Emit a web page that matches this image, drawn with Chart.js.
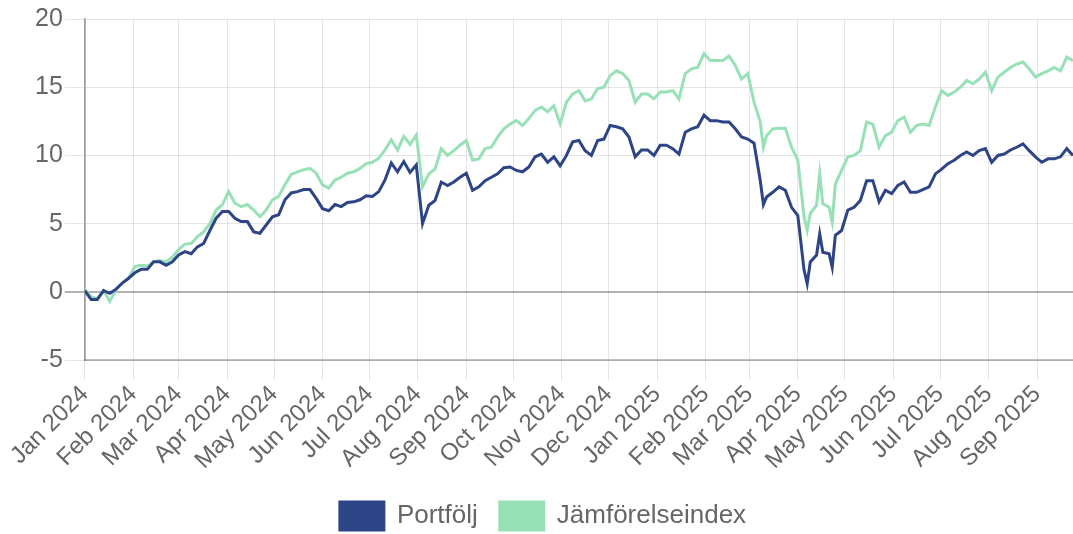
<!DOCTYPE html>
<html>
<head>
<meta charset="utf-8">
<script src="https://cdn.jsdelivr.net/npm/chart.js@4"></script>
<style>
  body { margin: 0; background: #fff; }
  #wrap { width: 1073px; height: 534px; }
</style>
</head>
<body>
<div id="wrap"><canvas id="perfChart"></canvas></div>
<script>
// datum for varje punkt
const dates = [
  '2024-01-01','2024-01-05','2024-01-09','2024-01-13','2024-01-17','2024-01-21','2024-01-25','2024-01-29',
  '2024-02-02','2024-02-06','2024-02-10','2024-02-14','2024-02-18','2024-02-22','2024-02-26',
  '2024-03-01','2024-03-05','2024-03-09','2024-03-13','2024-03-17','2024-03-21','2024-03-25','2024-03-29',
  '2024-04-02','2024-04-06','2024-04-10','2024-04-14','2024-04-18','2024-04-22','2024-04-26','2024-04-30',
  '2024-05-04','2024-05-08','2024-05-12','2024-05-16','2024-05-20','2024-05-24','2024-05-28',
  '2024-06-01','2024-06-05','2024-06-09','2024-06-13','2024-06-17','2024-06-21','2024-06-25','2024-06-29',
  '2024-07-03','2024-07-07','2024-07-11','2024-07-15','2024-07-19','2024-07-23','2024-07-27','2024-07-31',
  '2024-08-04','2024-08-08','2024-08-12','2024-08-16','2024-08-20','2024-08-24','2024-08-28',
  '2024-09-01','2024-09-05','2024-09-09','2024-09-13','2024-09-17','2024-09-21','2024-09-25','2024-09-29',
  '2024-10-03','2024-10-07','2024-10-11','2024-10-15','2024-10-19','2024-10-23','2024-10-27','2024-10-31',
  '2024-11-04','2024-11-08','2024-11-12','2024-11-16','2024-11-20','2024-11-24','2024-11-28',
  '2024-12-02','2024-12-06','2024-12-10','2024-12-14','2024-12-18','2024-12-22','2024-12-26','2024-12-30',
  '2025-01-03','2025-01-07','2025-01-11','2025-01-15','2025-01-19','2025-01-23','2025-01-27','2025-01-31',
  '2025-02-04','2025-02-08','2025-02-12','2025-02-16','2025-02-20','2025-02-24','2025-02-28',
  '2025-03-04','2025-03-08','2025-03-10','2025-03-12','2025-03-16','2025-03-20','2025-03-24','2025-03-28',
  '2025-04-01','2025-04-05','2025-04-07','2025-04-09','2025-04-13','2025-04-15','2025-04-17','2025-04-21','2025-04-23','2025-04-25','2025-04-29',
  '2025-05-03','2025-05-07','2025-05-11','2025-05-15','2025-05-19','2025-05-23','2025-05-27','2025-05-31',
  '2025-06-04','2025-06-08','2025-06-12','2025-06-16','2025-06-20','2025-06-24','2025-06-28',
  '2025-07-02','2025-07-06','2025-07-10','2025-07-14','2025-07-18','2025-07-22','2025-07-26','2025-07-30',
  '2025-08-03','2025-08-07','2025-08-11','2025-08-15','2025-08-19','2025-08-23','2025-08-27','2025-08-31',
  '2025-09-04','2025-09-08','2025-09-12','2025-09-16','2025-09-20','2025-09-24'
];

// avkastning i procent
const portfolio = [
  0.1, -0.55, -0.55, 0.1, -0.1, 0.2, 0.65, 1.0,
  1.4, 1.65, 1.65, 2.2, 2.2, 1.95, 2.2,
  2.7, 2.95, 2.8, 3.3, 3.55, 4.5, 5.4, 5.9,
  5.9, 5.4, 5.15, 5.15, 4.4, 4.3, 4.9, 5.5,
  5.65, 6.75, 7.25, 7.35, 7.5, 7.5, 6.85,
  6.1, 5.95, 6.4, 6.25, 6.55, 6.6, 6.75, 7.05,
  7.0, 7.35, 8.2, 9.45, 8.8, 9.55, 8.75, 9.3,
  5.0, 6.35, 6.7, 8.05, 7.8, 8.05, 8.4,
  8.7, 7.45, 7.7, 8.15, 8.4, 8.65, 9.1, 9.15,
  8.9, 8.8, 9.15, 9.9, 10.1, 9.5, 9.9, 9.25,
  10.0, 11.0, 11.1, 10.35, 10.0, 11.1, 11.2,
  12.2, 12.1, 11.95, 11.35, 9.9, 10.4, 10.4, 10.0,
  10.75, 10.75, 10.5, 10.1, 11.7, 11.95, 12.1, 12.95,
  12.55, 12.55, 12.45, 12.45, 11.95, 11.35, 11.2,
  10.9, 8.15, 6.4, 6.95, 7.3, 7.7, 7.45, 6.2,
  5.6, 1.6, 0.6, 2.2, 2.7, 4.25, 2.9, 2.8, 1.8, 4.15, 4.5,
  6.0, 6.2, 6.7, 8.15, 8.15, 6.6, 7.45, 7.2,
  7.8, 8.05, 7.3, 7.3, 7.5, 7.7, 8.65,
  9.0, 9.4, 9.65, 10.0, 10.25, 10.0, 10.35, 10.5,
  9.5, 10.0, 10.1, 10.4, 10.6, 10.85, 10.35, 9.9,
  9.5, 9.75, 9.75, 9.9, 10.5, 10.0
];

const benchmark = [
  0.15, -0.35, -0.5, 0.1, -0.7, 0.2, 0.65, 1.0,
  1.85, 1.95, 1.9, 2.2, 2.3, 2.2, 2.55,
  3.1, 3.5, 3.55, 4.05, 4.4, 5.0, 6.0, 6.4,
  7.35, 6.5, 6.25, 6.4, 6.0, 5.5, 6.0, 6.75,
  7.0, 7.85, 8.6, 8.8, 8.95, 9.05, 8.7,
  7.85, 7.6, 8.2, 8.4, 8.7, 8.8, 9.05, 9.4,
  9.5, 9.8, 10.4, 11.15, 10.4, 11.4, 10.8, 11.5,
  7.7, 8.65, 9.0, 10.5, 10.0, 10.35, 10.75,
  11.1, 9.65, 9.75, 10.5, 10.6, 11.35, 11.95, 12.3,
  12.55, 12.2, 12.7, 13.3, 13.55, 13.2, 13.65, 12.3,
  13.9, 14.5, 14.75, 14.0, 14.15, 14.9, 15.0,
  15.85, 16.2, 16.0, 15.5, 13.9, 14.5, 14.5, 14.15,
  14.65, 14.65, 14.75, 14.15, 16.0, 16.35, 16.45, 17.45,
  16.95, 16.95, 16.95, 17.3, 16.6, 15.6, 16.0,
  13.9, 12.45, 10.6, 11.45, 11.95, 12.0, 12.0, 10.6,
  9.65, 5.5, 4.5, 5.75, 6.35, 8.65, 6.45, 6.2, 5.1, 7.9, 8.9,
  9.9, 10.0, 10.35, 12.45, 12.3, 10.6, 11.45, 11.7,
  12.55, 12.8, 11.7, 12.2, 12.3, 12.2, 13.55,
  14.75, 14.4, 14.65, 15.0, 15.5, 15.25, 15.6, 16.1,
  14.75, 15.75, 16.1, 16.45, 16.7, 16.85, 16.35, 15.75,
  16.0, 16.2, 16.45, 16.2, 17.2, 16.95
];

// månadsetiketter på x-axeln
const monthStarts = [
  '2024-01-01','2024-02-01','2024-03-01','2024-04-01','2024-05-01','2024-06-01','2024-07-01',
  '2024-08-01','2024-09-01','2024-10-01','2024-11-01','2024-12-01','2025-01-01','2025-02-01',
  '2025-03-01','2025-04-01','2025-05-01','2025-06-01','2025-07-01','2025-08-01','2025-09-01'
];
const monthLabels = [
  'Jan 2024','Feb 2024','Mar 2024','Apr 2024','May 2024','Jun 2024','Jul 2024',
  'Aug 2024','Sep 2024','Oct 2024','Nov 2024','Dec 2024','Jan 2025','Feb 2025',
  'Mar 2025','Apr 2025','May 2025','Jun 2025','Jul 2025','Aug 2025','Sep 2025'
];

const yTicks = [-5, 0, 5, 10, 15, 20];

// dagar sedan 1 jan 2024
function dayNo(s) {
  const p = s.split('-').map(Number);
  return (Date.UTC(p[0], p[1] - 1, p[2]) - Date.UTC(2024, 0, 1)) / 86400000;
}

const xs = dates.map(dayNo);
const tickDays = monthStarts.map(dayNo);

Chart.defaults.font.family = "'Liberation Sans', Arial, sans-serif";
Chart.defaults.font.size = 25;
Chart.defaults.color = '#666';

const ctx = document.getElementById('perfChart').getContext('2d');
const perfChart = new Chart(ctx, {
    type: 'line',
    data: {
        datasets: [
            {
                label: 'Portfölj',
                data: xs.map((x, i) => ({ x: x, y: portfolio[i] })),
                borderColor: '#2d4486',
                backgroundColor: '#2d4486',
                borderWidth: 3,
                pointRadius: 0,
                tension: 0
            },
            {
                label: 'Jämförelseindex',
                data: xs.map((x, i) => ({ x: x, y: benchmark[i] })),
                borderColor: '#98e0b6',
                backgroundColor: '#98e0b6',
                borderWidth: 3,
                pointRadius: 0,
                tension: 0
            }
        ]
    },
    options: {
        responsive: true,
        maintainAspectRatio: false,
        animation: false,
        layout: { padding: { left: 13, right: 0, top: 19, bottom: -6 } },
        plugins: {
            legend: {
                position: 'bottom',
                labels: { boxWidth: 44, boxHeight: 28, padding: 22, font: { size: 26 } }
            },
            tooltip: { enabled: false }
        },
        scales: {
            x: {
                type: 'linear',
                min: 0,
                max: xs[xs.length - 1],
                afterBuildTicks: axis => { axis.ticks = tickDays.map(v => ({ value: v })); },
                afterFit: axis => { axis.height += 5; },
                ticks: {
                    autoSkip: false,
                    minRotation: 45,
                    maxRotation: 45,
                    padding: 0,
                    font: { size: 24 },
                    callback: (v) => monthLabels[tickDays.indexOf(v)]
                },
                grid: { color: 'rgba(0,0,0,0.1)', tickLength: 20 },
                border: { color: 'rgba(0,0,0,0.25)', width: 2 }
            },
            y: {
                min: -5,
                max: 20,
                afterBuildTicks: axis => { axis.ticks = yTicks.map(v => ({ value: v })); },
                afterFit: axis => { axis.width += 20; },
                ticks: { padding: 2 },
                grid: {
                    tickLength: 20,
                    color: c => c.tick && c.tick.value === 0 ? 'rgba(0,0,0,0.3)' : 'rgba(0,0,0,0.1)',
                    lineWidth: c => c.tick && c.tick.value === 0 ? 2 : 1
                },
                border: { color: 'rgba(0,0,0,0.3)', width: 2 }
            }
        }
    }
});
</script>
</body>
</html>
